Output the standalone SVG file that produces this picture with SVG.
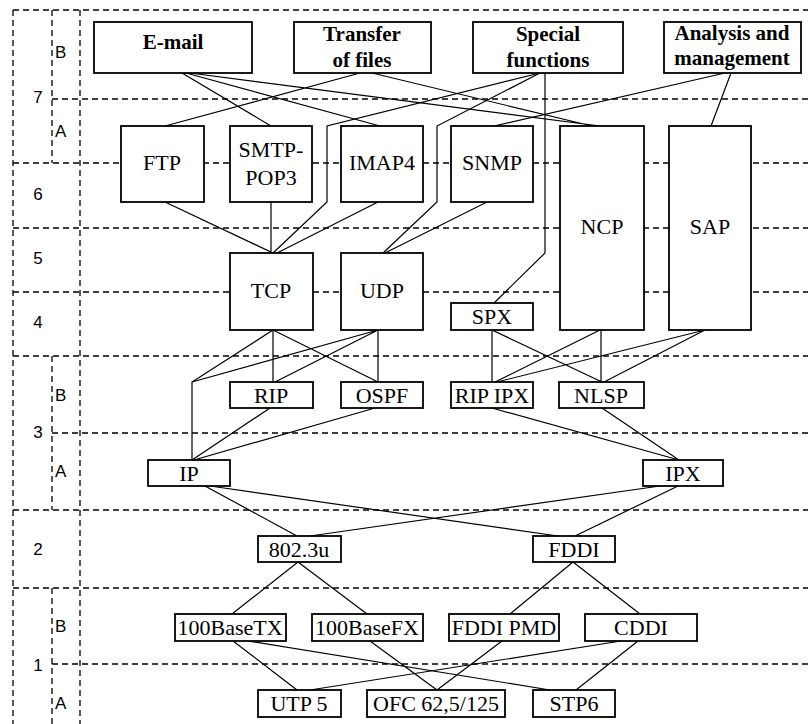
<svg xmlns="http://www.w3.org/2000/svg" width="808" height="724" viewBox="0 0 808 724">
<style>
.g{stroke:#000;stroke-width:1.3;stroke-dasharray:6 4;fill:none}
.c{stroke:#000;stroke-width:1.2;fill:none}
.b{fill:#fff;stroke:#000;stroke-width:1.8}
.t{font-size:22px;text-anchor:middle;fill:#000}
.h{font-size:21px;font-weight:bold;text-anchor:middle;fill:#000}
.l{font-size:17px;fill:#000}
.m{text-anchor:middle}
</style>
<rect width="808" height="724" fill="#fff"/>
<g id="grid" font-family="Liberation Sans, Arial, sans-serif">
<path class="g" d="M13 10H808M52 99H808M13 163H808M13 228H808M13 292H808M13 356H808M52 433H808M13 510H808M13 588H808M52 664H808"/>
<path class="g" d="M13 10V724M80 10V724M52 10V163M52 356V510M52 588V724"/>
<text class="l m" x="38" y="103">7</text>
<text class="l" x="55" y="58">B</text>
<text class="l" x="55" y="137">A</text>
<text class="l m" x="38" y="200">6</text>
<text class="l m" x="38" y="264">5</text>
<text class="l m" x="38" y="328">4</text>
<text class="l" x="55" y="401">B</text>
<text class="l m" x="38" y="438">3</text>
<text class="l" x="55" y="477">A</text>
<text class="l m" x="38" y="555">2</text>
<text class="l" x="55" y="632">B</text>
<text class="l m" x="38" y="671">1</text>
<text class="l" x="55" y="709">A</text>
</g>
<g id="connectors">
<path class="c" d="M182 73L271 126M186 73L380 126M190 73L600 126M360 73L165 126M372 73L592 126"/>
<polyline class="c" points="540,73 327,126 327,202 273,253"/>
<polyline class="c" points="540,73 437,126 437,202 383,253"/>
<polyline class="c" points="545,73 545,253 494,303"/>
<path class="c" d="M725 73L494 126M731 73L711 126"/>
<path class="c" d="M165 202L273 253M271 202L271 253M378 202L277 253M487 202L385 253"/>
<polyline class="c" points="273,330 192,382 192,460"/>
<path class="c" d="M378 330L192 382M273 330L273 382M273 330L378 382M378 330L275 382M378 330L378 382M270 408L192 460M375 408L194 460"/>
<path class="c" d="M492 330L492 382M492 330L602 382M600 330L495 382M601 330L601 382M705 330L497 382M705 330L604 382M492 408L679 460M602 408L679 460"/>
<path class="c" d="M205 486L297 536M210 486L558 536M660 486L310 536M678 486L575 536"/>
<path class="c" d="M298 562L232 614M298 562L367 614M573 562L510 614M573 562L640 614"/>
<path class="c" d="M233 641L297 690M248 641L550 690M370 641L437 690M502 641L437 690M621 641L310 690M638 641L576 690"/>
</g>
<g id="nodes" font-family="Liberation Serif, Times New Roman, DejaVu Serif, serif">
<g id="email"><rect class="b" x="94" y="22" width="158" height="51"/><text class="h" x="173" y="49">E-mail</text></g>
<g id="transfer"><rect class="b" x="294" y="22" width="137" height="51"/><text class="h" x="362" y="41">Transfer</text><text class="h" x="362" y="67">of files</text></g>
<g id="special"><rect class="b" x="473" y="22" width="150" height="51"/><text class="h" x="548" y="41">Special</text><text class="h" x="548" y="67">functions</text></g>
<g id="analysis"><rect class="b" x="664" y="22" width="137" height="51"/><text class="h" x="732" y="40">Analysis and</text><text class="h" x="732" y="65">management</text></g>
<g id="ftp"><rect class="b" x="121" y="126" width="83" height="76"/><text class="t" x="162" y="170">FTP</text></g>
<g id="smtp"><rect class="b" x="230" y="126" width="82" height="76"/><text class="t" x="271" y="157">SMTP-</text><text class="t" x="271" y="185">POP3</text></g>
<g id="imap4"><rect class="b" x="341" y="126" width="82" height="76"/><text class="t" x="382" y="170">IMAP4</text></g>
<g id="snmp"><rect class="b" x="451" y="126" width="82" height="76"/><text class="t" x="492" y="170">SNMP</text></g>
<g id="ncp"><rect class="b" x="560" y="126" width="84" height="204"/><text class="t" x="602" y="234">NCP</text></g>
<g id="sap"><rect class="b" x="669" y="126" width="82" height="204"/><text class="t" x="710" y="234">SAP</text></g>
<g id="tcp"><rect class="b" x="230" y="253" width="83" height="77"/><text class="t" x="271" y="298">TCP</text></g>
<g id="udp"><rect class="b" x="341" y="253" width="82" height="77"/><text class="t" x="382" y="298">UDP</text></g>
<g id="spx"><rect class="b" x="451" y="303" width="82" height="27"/><text class="t" x="492" y="324">SPX</text></g>
<g id="rip"><rect class="b" x="230" y="382" width="83" height="26"/><text class="t" x="271" y="403">RIP</text></g>
<g id="ospf"><rect class="b" x="341" y="382" width="82" height="26"/><text class="t" x="382" y="403">OSPF</text></g>
<g id="ripipx"><rect class="b" x="451" y="382" width="82" height="26"/><text class="t" x="492" y="403">RIP IPX</text></g>
<g id="nlsp"><rect class="b" x="559" y="382" width="85" height="26"/><text class="t" x="601" y="403">NLSP</text></g>
<g id="ip"><rect class="b" x="148" y="460" width="82" height="26"/><text class="t" x="189" y="481">IP</text></g>
<g id="ipx"><rect class="b" x="643" y="460" width="80" height="26"/><text class="t" x="683" y="481">IPX</text></g>
<g id="e8023u"><rect class="b" x="258" y="536" width="83" height="26"/><text class="t" x="299" y="557">802.3u</text></g>
<g id="fddi"><rect class="b" x="533" y="536" width="82" height="26"/><text class="t" x="574" y="557">FDDI</text></g>
<g id="tx"><rect class="b" x="175" y="614" width="111" height="27"/><text class="t" x="230" y="635">100BaseTX</text></g>
<g id="fx"><rect class="b" x="312" y="614" width="111" height="27"/><text class="t" x="367" y="635">100BaseFX</text></g>
<g id="pmd"><rect class="b" x="449" y="614" width="110" height="27"/><text class="t" x="504" y="635">FDDI PMD</text></g>
<g id="cddi"><rect class="b" x="585" y="614" width="112" height="27"/><text class="t" x="641" y="635">CDDI</text></g>
<g id="utp5"><rect class="b" x="258" y="690" width="83" height="27"/><text class="t" x="299" y="711">UTP 5</text></g>
<g id="ofc"><rect class="b" x="367" y="690" width="138" height="27"/><text class="t" x="436" y="711">OFC 62,5/125</text></g>
<g id="stp6"><rect class="b" x="533" y="690" width="82" height="27"/><text class="t" x="574" y="711">STP6</text></g>
</g>
</svg>
